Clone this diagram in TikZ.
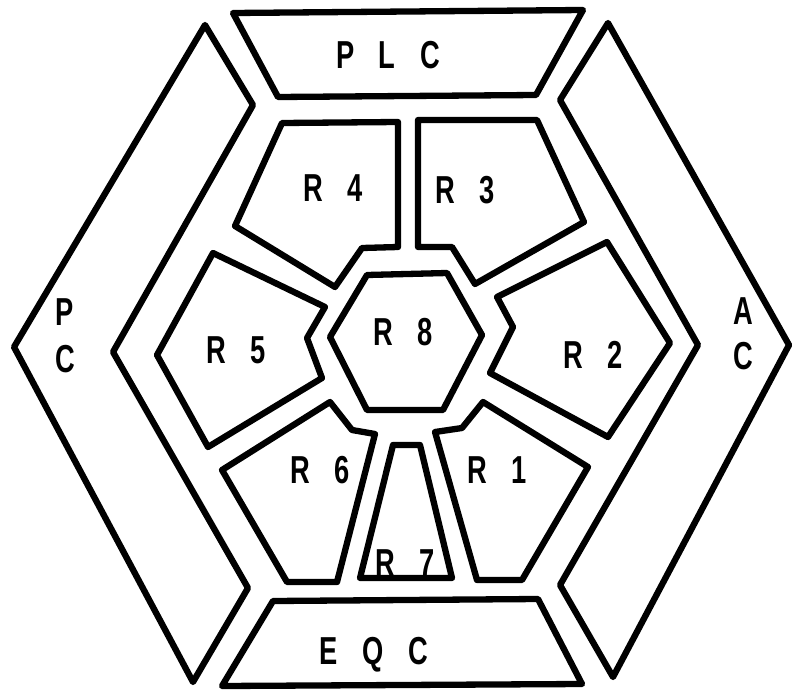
\documentclass[tikz,border=0pt]{standalone}
\usepackage{fontspec}
\setmainfont{Liberation Sans}
\newcommand\lab[1]{\scalebox{0.70}[1]{\bfseries #1}}
\newcommand\gp{\hspace{0.9em}}
\begin{document}
\begin{tikzpicture}[x=1pt,y=-1pt,
  wall/.style={line width=6.3pt, line join=round},
  lbl/.style={font=\fontsize{39}{42}\selectfont, inner sep=0pt, anchor=center}]
\useasboundingbox (0,0) rectangle (795,693);
% outer ring
\draw[wall] (233,13) -- (583,10) -- (536,95) -- (278,97) -- cycle;
\draw[wall] (205,25) -- (253,105) -- (113,352) -- (248,588) -- (193,682) -- (14,347) -- cycle;
\draw[wall] (608,23) -- (789,345) -- (613,677) -- (560,585) -- (698,345) -- (560,100) -- cycle;
\draw[wall] (273,601) -- (538,599) -- (582,684) -- (222,686) -- cycle;
% rooms
\draw[wall] (282,123) -- (398,122) -- (398,247) -- (362,248) -- (335,287) -- (235,226) -- cycle;
\draw[wall] (418,120) -- (537,120) -- (584,222) -- (475,284) -- (452,247) -- (418,247) -- cycle;
\draw[wall] (213,253) -- (325,307) -- (307,338) -- (322,378) -- (208,447) -- (157,355) -- cycle;
\draw[wall] (367,275) -- (447,273) -- (482,335) -- (443,410) -- (367,410) -- (330,337) -- cycle;
\draw[wall] (607,242) -- (670,343) -- (608,437) -- (490,373) -- (513,327) -- (497,297) -- cycle;
\draw[wall] (330,402) -- (352,430) -- (375,434) -- (337,582) -- (287,582) -- (222,470) -- cycle;
\draw[wall] (483,402) -- (588,467) -- (522,580) -- (477,580) -- (435,432) -- (462,428) -- cycle;
\draw[wall] (393,445) -- (420,445) -- (452,578) -- (360,578) -- cycle;
% labels
\node[lbl] (plc) at (388,55) {\lab{P\gp L\gp C}};
\node[lbl] (eqc) at (374,655) {\lab{E\gp Q\gp C}};
\node[lbl] (pcp) at (65,312) {\lab{P}};
\node[lbl] (pcc) at (65,359) {\lab{C}};
\node[lbl] (aca) at (743,311) {\lab{A}};
\node[lbl] (acc) at (743,356) {\lab{C}};
\node[lbl] (r4) at (333,188) {\lab{R\gp 4}};
\node[lbl] (r3) at (465,190) {\lab{R\gp 3}};
\node[lbl] (r5) at (236,350) {\lab{R\gp 5}};
\node[lbl] (r8) at (403,332) {\lab{R\gp 8}};
\node[lbl] (r2) at (593,355) {\lab{R\gp 2}};
\node[lbl] (r6) at (320,470) {\lab{R\gp 6}};
\node[lbl] (r1) at (497,470) {\lab{R\gp 1}};
\node[lbl] (r7) at (405,563) {\lab{R\gp 7}};
\end{tikzpicture}
\end{document}
